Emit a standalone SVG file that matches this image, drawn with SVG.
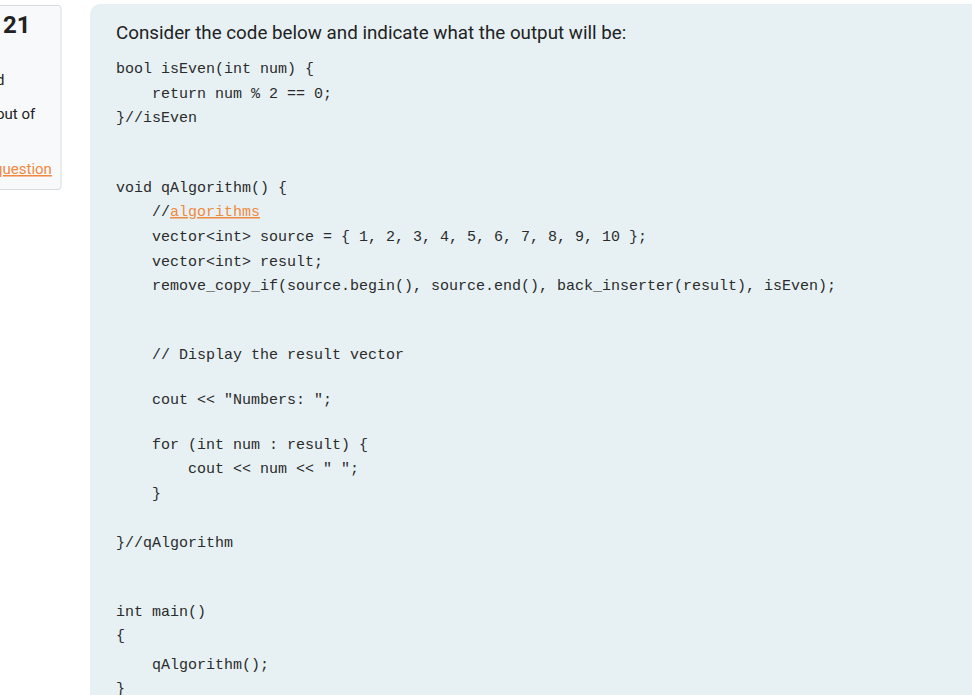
<svg xmlns="http://www.w3.org/2000/svg" width="972" height="695" viewBox="0 0 972 695">
<style>
.c{font-family:"Liberation Mono","DejaVu Sans Mono",monospace;font-size:15px;fill:#2b2b2b;white-space:pre}
.s{font-family:Roboto,"Liberation Sans",sans-serif;fill:#222}
</style>
<rect width="972" height="695" fill="#fff"/>
<rect x="-10" y="5.5" width="71" height="184" rx="3" fill="#f8f9fa" stroke="#d9dcdf"/>
<text class="s" x="3" y="33" font-size="24" font-weight="bold">21</text>
<text class="s" x="-4" y="85" font-size="15">d</text>
<text class="s" x="-4" y="119" font-size="15">out of</text>
<text class="s" x="-6" y="174" font-size="15" style="fill:#f0883e" text-decoration="underline">question</text>
<rect x="90" y="4" width="900" height="700" rx="10" fill="#e7f1f4"/>
<text class="s" x="116" y="39" font-size="18.8">Consider the code below and indicate what the output will be:</text>
<text class="c" x="116" y="73">bool isEven(int num) {</text>
<text class="c" x="116" y="98">    return num % 2 == 0;</text>
<text class="c" x="116" y="122">}//isEven</text>
<text class="c" x="116" y="192">void qAlgorithm() {</text>
<text class="c" x="116" y="216">    //<tspan fill="#f0883e" text-decoration="underline">algorithms</tspan></text>
<text class="c" x="116" y="241">    vector&lt;int&gt; source = { 1, 2, 3, 4, 5, 6, 7, 8, 9, 10 };</text>
<text class="c" x="116" y="266">    vector&lt;int&gt; result;</text>
<text class="c" x="116" y="290">    remove_copy_if(source.begin(), source.end(), back_inserter(result), isEven);</text>
<text class="c" x="116" y="359">    // Display the result vector</text>
<text class="c" x="116" y="404">    cout &lt;&lt; "Numbers: ";</text>
<text class="c" x="116" y="449">    for (int num : result) {</text>
<text class="c" x="116" y="473">        cout &lt;&lt; num &lt;&lt; " ";</text>
<text class="c" x="116" y="498">    }</text>
<text class="c" x="116" y="547">}//qAlgorithm</text>
<text class="c" x="116" y="616">int main()</text>
<text class="c" x="116" y="640">{</text>
<text class="c" x="116" y="669">    qAlgorithm();</text>
<text class="c" x="116" y="693">}</text>
</svg>
